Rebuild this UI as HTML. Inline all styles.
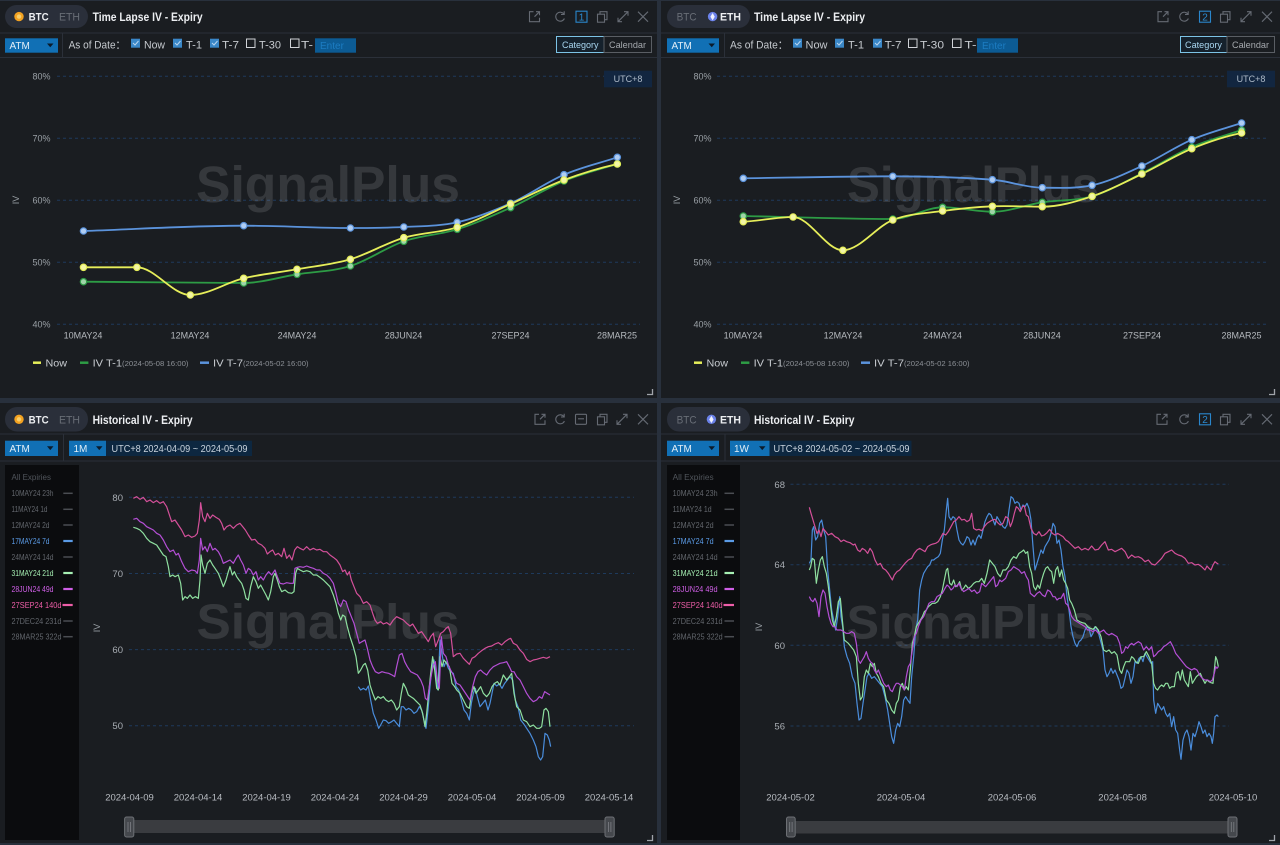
<!DOCTYPE html>
<html><head><meta charset="utf-8"><style>
html,body{margin:0;padding:0;background:#28303c;width:1280px;height:845px;overflow:hidden}
svg{display:block}
text{font-family:"Liberation Sans","Noto Sans CJK SC",sans-serif}
</style></head><body>
<svg width="1280" height="845" viewBox="0 0 1280 845" xmlns="http://www.w3.org/2000/svg">
<rect width="1280" height="845" fill="#28303c"/>
<!-- panels -->
<rect x="0" y="1" width="657" height="397" fill="#1a1d21"/>
<rect x="661" y="1" width="619" height="397" fill="#1a1d21"/>
<rect x="0" y="403" width="657" height="440" fill="#1a1d21"/>
<rect x="661" y="403" width="619" height="440" fill="#1a1d21"/>

<!-- divider lines -->
<g stroke="#2b3039" stroke-width="1">
<line x1="0" y1="33" x2="657" y2="33"/><line x1="0" y1="57.5" x2="657" y2="57.5"/><line x1="62.5" y1="33" x2="62.5" y2="57.5"/>
<line x1="661" y1="33" x2="1280" y2="33"/><line x1="661" y1="57.5" x2="1280" y2="57.5"/><line x1="724.5" y1="33" x2="724.5" y2="57.5"/>
<line x1="0" y1="434" x2="657" y2="434"/><line x1="0" y1="461" x2="657" y2="461"/><line x1="63.5" y1="434" x2="63.5" y2="461"/>
<line x1="661" y1="434" x2="1280" y2="434"/><line x1="661" y1="461" x2="1280" y2="461"/><line x1="725" y1="434" x2="725" y2="461"/>
</g>

<!-- ============ TOP LEFT HEADER ============ -->
<rect x="5" y="5" width="83" height="23" rx="11.5" fill="#2a2f3a"/>
<circle cx="19" cy="16.6" r="4.7" fill="#f3a221"/><circle cx="19" cy="16.6" r="2.2" fill="#f9cf6a"/>
<text x="28.6" y="20.5" font-size="11" font-weight="bold" fill="#eceef1" textLength="20" lengthAdjust="spacingAndGlyphs">BTC</text>
<text x="59" y="20.5" font-size="11" fill="#686d76" textLength="21" lengthAdjust="spacingAndGlyphs">ETH</text>
<text x="92.6" y="21" font-size="12" font-weight="bold" fill="#eceef1" textLength="110" lengthAdjust="spacingAndGlyphs">Time Lapse IV - Expiry</text>
<!-- icons TL -->
<g fill="none" stroke="#656a73" stroke-width="1.1">
<g transform="translate(534.5,16.7)"><path d="M-1,-5 H-5 V5 H5 V1 M1.5,-5 H5 V-1.5 M5,-5 L0,0"/></g>
<g transform="translate(560,16.7)"><path d="M4,-2.5 A4.5,4.5 0 1 0 4.4,1.8"/><path d="M4.2,-5.5 V-2.3 H1"/></g>
<g transform="translate(581.5,16.7)"><rect x="-5.5" y="-5.5" width="11" height="11" stroke="#2a86cc"/></g>
<g transform="translate(602,16.7)"><rect x="-4.5" y="-2.5" width="7" height="8"/><path d="M-2,-2.5 V-5 H5 V3 H2.5"/></g>
<g transform="translate(623,16.7)"><path d="M-5,5 L5,-5 M1,-5 H5 V-1 M-5,1 V5 H-1"/></g>
<g transform="translate(643,16.7)"><path d="M-5,-5 L5,5 M5,-5 L-5,5"/></g>
</g>
<text x="581.5" y="20.3" font-size="10" fill="#2a8ad0" text-anchor="middle">1</text>

<!-- TL toolbar -->
<rect x="5" y="38.3" width="53" height="14.4" fill="#1170b5"/>
<text x="9.5" y="49.2" font-size="10" fill="#e2eef7">ATM</text>
<path d="M47,43.5 h6.5 l-3.25,3.8z" fill="#0b1b2b"/>
<text x="68.6" y="48.5" font-size="11" fill="#c5c9ce" textLength="57" lengthAdjust="spacingAndGlyphs">As of Date：</text>
<g>
<rect x="131" y="38.7" width="9" height="9" fill="#3a87c7"/><path d="M133,43 l2,2 l3.5,-4" stroke="#b9d6f0" fill="none" stroke-width="1"/>
<rect x="173" y="38.7" width="9" height="9" fill="#3a87c7"/><path d="M175,43 l2,2 l3.5,-4" stroke="#b9d6f0" fill="none" stroke-width="1"/>
<rect x="210" y="38.7" width="9" height="9" fill="#3a87c7"/><path d="M212,43 l2,2 l3.5,-4" stroke="#b9d6f0" fill="none" stroke-width="1"/>
<rect x="246.5" y="39" width="8.5" height="8.5" fill="none" stroke="#d0d3d8"/>
<rect x="290.5" y="39" width="8.5" height="8.5" fill="none" stroke="#d0d3d8"/>
</g>
<g font-size="11" fill="#c5c9ce">
<text x="144" y="48.3" textLength="21" lengthAdjust="spacingAndGlyphs">Now</text>
<text x="186" y="48.3" textLength="16" lengthAdjust="spacingAndGlyphs">T-1</text>
<text x="222" y="48.3" textLength="17" lengthAdjust="spacingAndGlyphs">T-7</text>
<text x="259" y="48.3" textLength="22" lengthAdjust="spacingAndGlyphs">T-30</text>
<text x="301" y="48.3" textLength="12" lengthAdjust="spacingAndGlyphs">T-</text>
</g>
<rect x="315" y="38.3" width="41" height="14.4" fill="#0c5b94"/>
<text x="320" y="49" font-size="10" fill="#1c7cc2">Enter</text>
<rect x="556.5" y="36.5" width="47.5" height="16" fill="#15212c" stroke="#7cc3e6"/>
<text x="562" y="48" font-size="9.5" fill="#a8d6f0" textLength="36.5" lengthAdjust="spacingAndGlyphs">Category</text>
<rect x="604" y="36.5" width="47.5" height="16" fill="none" stroke="#5a5e64"/>
<text x="609" y="48" font-size="9.5" fill="#a5a9ae" textLength="37" lengthAdjust="spacingAndGlyphs">Calendar</text>

<!-- TL chart -->
<g stroke="#1e3a5c" stroke-width="1" stroke-dasharray="3,3">
<line x1="57" y1="76.3" x2="640" y2="76.3"/><line x1="57" y1="138.3" x2="640" y2="138.3"/><line x1="57" y1="200.3" x2="640" y2="200.3"/><line x1="57" y1="262.3" x2="640" y2="262.3"/><line x1="57" y1="324.3" x2="640" y2="324.3"/>
</g>
<rect x="604" y="70.7" width="48" height="16.6" fill="#122640"/>
<text x="628" y="82" font-size="9" fill="#aebbc9" text-anchor="middle">UTC+8</text>
<g font-size="9" fill="#9aa0a6" text-anchor="end">
<text x="50.5" y="79.5">80%</text><text x="50.5" y="141.5">70%</text><text x="50.5" y="203.5">60%</text><text x="50.5" y="265.5">50%</text><text x="50.5" y="327.5">40%</text>
</g>
<text transform="translate(19,200) rotate(-90)" font-size="9" fill="#9aa0a6" text-anchor="middle">IV</text>
<g font-size="9" fill="#b5b9be" text-anchor="middle">
<text x="83" y="338.3">10MAY24</text><text x="190" y="338.3">12MAY24</text><text x="297" y="338.3">24MAY24</text><text x="403.5" y="338.3">28JUN24</text><text x="510.5" y="338.3">27SEP24</text><text x="617" y="338.3">28MAR25</text>
</g>
<text x="196" y="202" font-size="51" font-weight="bold" fill="#ffffff" fill-opacity="0.12" textLength="264" lengthAdjust="spacingAndGlyphs">SignalPlus</text>

<g fill="none" stroke-width="1.8">
<path stroke="#2d9c45" d="M83.5,281.7 C136.9,281.7 190.3,283 243.7,283 C261.5,283 279.2,277.1 297,274.3 C314.8,271.5 332.6,271.5 350.4,266 C368.2,260.5 386,247.4 403.8,241.3 C421.6,235.2 439.4,234.9 457.2,229.3 C475,223.7 492.8,215.7 510.6,207.7 C528.4,199.7 546.2,188.3 564,181 C581.8,173.7 599.5,169.3 617.3,164"/>
<path stroke="#5b93dc" d="M83.5,231 C136.9,229.2 190.3,225.7 243.7,225.7 C279.3,225.7 314.8,228 350.4,228 C368.2,228 386,227.9 403.8,227 C421.6,226.1 439.4,226.3 457.2,222.3 C475,218.4 492.8,211.2 510.6,203.3 C528.4,195.4 546.2,182.4 564,174.7 C581.8,167 599.5,163.2 617.3,157.3"/>
<path stroke="#e6ee5a" d="M83.5,267.3 C101.3,267.3 119.1,267.3 136.9,267.3 C154.7,267.3 172.5,295 190.3,295 C208.1,295 225.9,282.6 243.7,278.3 C261.5,274 279.2,272.5 297,269.3 C314.8,266.1 332.6,264.6 350.4,259.3 C368.2,254 386,243 403.8,237.7 C421.6,232.4 439.4,232.9 457.2,227.3 C475,221.7 492.8,211.9 510.6,204 C528.4,196.1 546.2,186.7 564,180 C581.8,173.3 599.5,168 617.3,164"/>
</g>
<g stroke="#2d9c45" stroke-width="1.2" fill="#9fd4a8">
<circle cx="83.5" cy="281.7" r="3.2"/><circle cx="243.7" cy="283" r="3.2"/><circle cx="297" cy="274.3" r="3.2"/><circle cx="350.4" cy="266" r="3.2"/><circle cx="403.8" cy="241.3" r="3.2"/><circle cx="457.2" cy="229.3" r="3.2"/><circle cx="510.6" cy="207.7" r="3.2"/><circle cx="564" cy="181" r="3.2"/><circle cx="617.3" cy="164" r="3.2"/>
</g>
<g stroke="#5b93dc" stroke-width="1.2" fill="#b0cdf2">
<circle cx="83.5" cy="231" r="3.2"/><circle cx="243.7" cy="225.7" r="3.2"/><circle cx="350.4" cy="228" r="3.2"/><circle cx="403.8" cy="227" r="3.2"/><circle cx="457.2" cy="222.3" r="3.2"/><circle cx="510.6" cy="203.3" r="3.2"/><circle cx="564" cy="174.7" r="3.2"/><circle cx="617.3" cy="157.3" r="3.2"/>
</g>
<g stroke="#e6ee5a" stroke-width="1.2" fill="#f3f6a6">
<circle cx="83.5" cy="267.3" r="3.2"/><circle cx="136.9" cy="267.3" r="3.2"/><circle cx="190.3" cy="295" r="3.2"/><circle cx="243.7" cy="278.3" r="3.2"/><circle cx="297" cy="269.3" r="3.2"/><circle cx="350.4" cy="259.3" r="3.2"/><circle cx="403.8" cy="237.7" r="3.2"/><circle cx="457.2" cy="227.3" r="3.2"/><circle cx="510.6" cy="204" r="3.2"/><circle cx="564" cy="180" r="3.2"/><circle cx="617.3" cy="164" r="3.2"/>
</g>
<!-- TL legend -->
<line x1="33" y1="362.7" x2="41" y2="362.7" stroke="#e6ee5a" stroke-width="2.5"/>
<text x="45.5" y="366.5" font-size="10.5" fill="#c8ccd1" textLength="21.5" lengthAdjust="spacingAndGlyphs">Now</text>
<line x1="80" y1="362.7" x2="88.4" y2="362.7" stroke="#2d9c45" stroke-width="2.5"/>
<text x="92.6" y="366.5" font-size="10.5" fill="#c8ccd1" textLength="29.5" lengthAdjust="spacingAndGlyphs">IV T-1</text>
<text x="122" y="366" font-size="7" fill="#8c9096" textLength="66.5" lengthAdjust="spacingAndGlyphs">(2024-05-08 16:00)</text>
<line x1="200" y1="362.7" x2="209" y2="362.7" stroke="#5b93dc" stroke-width="2.5"/>
<text x="213" y="366.5" font-size="10.5" fill="#c8ccd1" textLength="30" lengthAdjust="spacingAndGlyphs">IV T-7</text>
<text x="243" y="366" font-size="7" fill="#8c9096" textLength="65.5" lengthAdjust="spacingAndGlyphs">(2024-05-02 16:00)</text>
<path d="M652.5,389 V394.5 H647" fill="none" stroke="#a0a4aa" stroke-width="1.3"/>

<!-- ============ TOP RIGHT ============ -->
<rect x="667" y="5" width="83" height="23" rx="11.5" fill="#2a2f3a"/>
<text x="676.6" y="20.5" font-size="11" fill="#686d76" textLength="20" lengthAdjust="spacingAndGlyphs">BTC</text>
<circle cx="712.6" cy="16.6" r="4.7" fill="#6b82ea"/><path d="M712.6,13 l2.2,3.8 l-2.2,3.6 l-2.2,-3.6z" fill="#eef1ff"/>
<text x="720" y="20.5" font-size="11" font-weight="bold" fill="#eceef1" textLength="21" lengthAdjust="spacingAndGlyphs">ETH</text>
<text x="754" y="21" font-size="12" font-weight="bold" fill="#eceef1" textLength="111" lengthAdjust="spacingAndGlyphs">Time Lapse IV - Expiry</text>
<g fill="none" stroke="#656a73" stroke-width="1.1">
<g transform="translate(1163,16.7)"><path d="M-1,-5 H-5 V5 H5 V1 M1.5,-5 H5 V-1.5 M5,-5 L0,0"/></g>
<g transform="translate(1184,16.7)"><path d="M4,-2.5 A4.5,4.5 0 1 0 4.4,1.8"/><path d="M4.2,-5.5 V-2.3 H1"/></g>
<g transform="translate(1205,16.7)"><rect x="-5.5" y="-5.5" width="11" height="11" stroke="#2a86cc"/></g>
<g transform="translate(1225,16.7)"><rect x="-4.5" y="-2.5" width="7" height="8"/><path d="M-2,-2.5 V-5 H5 V3 H2.5"/></g>
<g transform="translate(1246,16.7)"><path d="M-5,5 L5,-5 M1,-5 H5 V-1 M-5,1 V5 H-1"/></g>
<g transform="translate(1267,16.7)"><path d="M-5,-5 L5,5 M5,-5 L-5,5"/></g>
</g>
<text x="1205" y="20.3" font-size="10" fill="#2a8ad0" text-anchor="middle">2</text>

<rect x="667" y="38.3" width="52" height="14.4" fill="#1170b5"/>
<text x="671.5" y="49.2" font-size="10" fill="#e2eef7">ATM</text>
<path d="M708.5,43.5 h6.5 l-3.25,3.8z" fill="#0b1b2b"/>
<text x="730" y="48.5" font-size="11" fill="#c5c9ce" textLength="58" lengthAdjust="spacingAndGlyphs">As of Date：</text>
<rect x="793" y="38.7" width="9" height="9" fill="#3a87c7"/><path d="M795,43 l2,2 l3.5,-4" stroke="#b9d6f0" fill="none"/>
<rect x="835" y="38.7" width="9" height="9" fill="#3a87c7"/><path d="M837,43 l2,2 l3.5,-4" stroke="#b9d6f0" fill="none"/>
<rect x="873" y="38.7" width="9" height="9" fill="#3a87c7"/><path d="M875,43 l2,2 l3.5,-4" stroke="#b9d6f0" fill="none"/>
<rect x="908.5" y="39" width="8.5" height="8.5" fill="none" stroke="#d0d3d8"/>
<rect x="952.5" y="39" width="8.5" height="8.5" fill="none" stroke="#d0d3d8"/>
<g font-size="11" fill="#c5c9ce">
<text x="805.5" y="48.3" textLength="22" lengthAdjust="spacingAndGlyphs">Now</text>
<text x="848" y="48.3" textLength="16" lengthAdjust="spacingAndGlyphs">T-1</text>
<text x="884.6" y="48.3" textLength="17" lengthAdjust="spacingAndGlyphs">T-7</text>
<text x="920" y="48.3" textLength="24" lengthAdjust="spacingAndGlyphs">T-30</text>
<text x="964.5" y="48.3" textLength="12" lengthAdjust="spacingAndGlyphs">T-</text>
</g>
<rect x="977" y="38.3" width="41" height="14.4" fill="#0c5b94"/>
<text x="982" y="49" font-size="10" fill="#1c7cc2">Enter</text>
<rect x="1180.5" y="36.5" width="46.5" height="16" fill="#15212c" stroke="#7cc3e6"/>
<text x="1185" y="48" font-size="9.5" fill="#a8d6f0" textLength="37" lengthAdjust="spacingAndGlyphs">Category</text>
<rect x="1227" y="36.5" width="47.5" height="16" fill="none" stroke="#5a5e64"/>
<text x="1232" y="48" font-size="9.5" fill="#a5a9ae" textLength="37" lengthAdjust="spacingAndGlyphs">Calendar</text>

<g stroke="#1e3a5c" stroke-width="1" stroke-dasharray="3,3">
<line x1="717" y1="76.3" x2="1266" y2="76.3"/><line x1="717" y1="138.3" x2="1266" y2="138.3"/><line x1="717" y1="200.3" x2="1266" y2="200.3"/><line x1="717" y1="262.3" x2="1266" y2="262.3"/><line x1="717" y1="324.3" x2="1266" y2="324.3"/>
</g>
<rect x="1227" y="70.7" width="48" height="16.6" fill="#122640"/>
<text x="1251" y="82" font-size="9" fill="#aebbc9" text-anchor="middle">UTC+8</text>
<g font-size="9" fill="#9aa0a6" text-anchor="end">
<text x="711.5" y="79.5">80%</text><text x="711.5" y="141.5">70%</text><text x="711.5" y="203.5">60%</text><text x="711.5" y="265.5">50%</text><text x="711.5" y="327.5">40%</text>
</g>
<text transform="translate(680,200) rotate(-90)" font-size="9" fill="#9aa0a6" text-anchor="middle">IV</text>
<g font-size="9" fill="#b5b9be" text-anchor="middle">
<text x="743" y="338.3">10MAY24</text><text x="843" y="338.3">12MAY24</text><text x="942.5" y="338.3">24MAY24</text><text x="1042" y="338.3">28JUN24</text><text x="1142" y="338.3">27SEP24</text><text x="1241.5" y="338.3">28MAR25</text>
</g>
<text x="847" y="202" font-size="50" font-weight="bold" fill="#ffffff" fill-opacity="0.12" textLength="252" lengthAdjust="spacingAndGlyphs">SignalPlus</text>

<g fill="none" stroke-width="1.8">
<path stroke="#2d9c45" d="M743.3,216 C793.1,217 842.9,219 892.8,219 C909.4,219 926,207.3 942.6,207.3 C959.2,207.3 975.8,211.7 992.4,211.7 C1009,211.7 1025.7,204.9 1042.3,202.3 C1058.9,199.7 1075.5,201.1 1092.1,196.3 C1108.7,191.5 1125.3,181.5 1141.9,173.3 C1158.5,165.1 1175.2,154.2 1191.8,147 C1208.4,139.8 1225,135.7 1241.6,130"/>
<path stroke="#5b93dc" d="M743.3,178.3 C793.1,177.6 842.9,176.3 892.8,176.3 C926,176.3 959.2,177.2 992.4,179.7 C1009,181 1025.7,187.7 1042.3,187.7 C1058.9,187.7 1075.5,188.9 1092.1,185.3 C1108.7,181.7 1125.3,173.6 1141.9,166 C1158.5,158.4 1175.2,146.9 1191.8,139.7 C1208.4,132.5 1225,128.5 1241.6,123"/>
<path stroke="#e6ee5a" d="M743.3,221.7 C759.9,221 776.5,217 793.1,217 C809.7,217 826.3,250.3 842.9,250.3 C859.5,250.3 876.2,226.6 892.8,220 C909.4,213.5 926,213.3 942.6,211 C959.2,208.7 975.8,207 992.4,206.3 C1009,205.6 1025.7,206.7 1042.3,206.7 C1058.9,206.7 1075.5,201.8 1092.1,196.3 C1108.7,190.9 1125.3,181.9 1141.9,174 C1158.5,166.1 1175.2,155.5 1191.8,148.7 C1208.4,141.9 1225,136.3 1241.6,133"/>
</g>
<g stroke="#2d9c45" stroke-width="1.2" fill="#9fd4a8">
<circle cx="743.3" cy="216" r="3.2"/><circle cx="892.8" cy="219" r="3.2"/><circle cx="942.6" cy="207.3" r="3.2"/><circle cx="992.4" cy="211.7" r="3.2"/><circle cx="1042.3" cy="202.3" r="3.2"/><circle cx="1092.1" cy="196.3" r="3.2"/><circle cx="1141.9" cy="173.3" r="3.2"/><circle cx="1191.8" cy="147" r="3.2"/><circle cx="1241.6" cy="130" r="3.2"/>
</g>
<g stroke="#5b93dc" stroke-width="1.2" fill="#b0cdf2">
<circle cx="743.3" cy="178.3" r="3.2"/><circle cx="892.8" cy="176.3" r="3.2"/><circle cx="992.4" cy="179.7" r="3.2"/><circle cx="1042.3" cy="187.7" r="3.2"/><circle cx="1092.1" cy="185.3" r="3.2"/><circle cx="1141.9" cy="166" r="3.2"/><circle cx="1191.8" cy="139.7" r="3.2"/><circle cx="1241.6" cy="123" r="3.2"/>
</g>
<g stroke="#e6ee5a" stroke-width="1.2" fill="#f3f6a6">
<circle cx="743.3" cy="221.7" r="3.2"/><circle cx="793.1" cy="217" r="3.2"/><circle cx="842.9" cy="250.3" r="3.2"/><circle cx="892.8" cy="220" r="3.2"/><circle cx="942.6" cy="211" r="3.2"/><circle cx="992.4" cy="206.3" r="3.2"/><circle cx="1042.3" cy="206.7" r="3.2"/><circle cx="1092.1" cy="196.3" r="3.2"/><circle cx="1141.9" cy="174" r="3.2"/><circle cx="1191.8" cy="148.7" r="3.2"/><circle cx="1241.6" cy="133" r="3.2"/>
</g>
<line x1="694" y1="362.7" x2="702" y2="362.7" stroke="#e6ee5a" stroke-width="2.5"/>
<text x="706.5" y="366.5" font-size="10.5" fill="#c8ccd1" textLength="21.5" lengthAdjust="spacingAndGlyphs">Now</text>
<line x1="741" y1="362.7" x2="749.4" y2="362.7" stroke="#2d9c45" stroke-width="2.5"/>
<text x="753.6" y="366.5" font-size="10.5" fill="#c8ccd1" textLength="29.5" lengthAdjust="spacingAndGlyphs">IV T-1</text>
<text x="783" y="366" font-size="7" fill="#8c9096" textLength="66.5" lengthAdjust="spacingAndGlyphs">(2024-05-08 16:00)</text>
<line x1="861" y1="362.7" x2="870" y2="362.7" stroke="#5b93dc" stroke-width="2.5"/>
<text x="874" y="366.5" font-size="10.5" fill="#c8ccd1" textLength="30" lengthAdjust="spacingAndGlyphs">IV T-7</text>
<text x="904" y="366" font-size="7" fill="#8c9096" textLength="65.5" lengthAdjust="spacingAndGlyphs">(2024-05-02 16:00)</text>
<path d="M1274.5,389 V394.5 H1269" fill="none" stroke="#a0a4aa" stroke-width="1.3"/>

<!-- ============ BOTTOM LEFT ============ -->
<rect x="5" y="407" width="83" height="24.5" rx="12" fill="#2a2f3a"/>
<circle cx="19" cy="419.3" r="4.7" fill="#f3a221"/><circle cx="19" cy="419.3" r="2.2" fill="#f9cf6a"/>
<text x="28.6" y="423.3" font-size="11" font-weight="bold" fill="#eceef1" textLength="20" lengthAdjust="spacingAndGlyphs">BTC</text>
<text x="59" y="423.3" font-size="11" fill="#686d76" textLength="21" lengthAdjust="spacingAndGlyphs">ETH</text>
<text x="92.6" y="423.8" font-size="12" font-weight="bold" fill="#eceef1" textLength="100" lengthAdjust="spacingAndGlyphs">Historical IV - Expiry</text>
<g fill="none" stroke="#656a73" stroke-width="1.1">
<g transform="translate(540,419.3)"><path d="M-1,-5 H-5 V5 H5 V1 M1.5,-5 H5 V-1.5 M5,-5 L0,0"/></g>
<g transform="translate(560,419.3)"><path d="M4,-2.5 A4.5,4.5 0 1 0 4.4,1.8"/><path d="M4.2,-5.5 V-2.3 H1"/></g>
<g transform="translate(581,419.3)"><rect x="-5.5" y="-5" width="11" height="10" rx="1"/><path d="M-3,-0.5 H3"/></g>
<g transform="translate(602,419.3)"><rect x="-4.5" y="-2.5" width="7" height="8"/><path d="M-2,-2.5 V-5 H5 V3 H2.5"/></g>
<g transform="translate(622,419.3)"><path d="M-5,5 L5,-5 M1,-5 H5 V-1 M-5,1 V5 H-1"/></g>
<g transform="translate(643,419.3)"><path d="M-5,-5 L5,5 M5,-5 L-5,5"/></g>
</g>
<rect x="5" y="440.7" width="53" height="15.3" fill="#1170b5"/>
<text x="9.5" y="452" font-size="10" fill="#e2eef7">ATM</text>
<path d="M47,446.3 h6.5 l-3.25,3.8z" fill="#0b1b2b"/>
<rect x="69" y="440.7" width="37" height="15.3" fill="#1170b5"/>
<text x="73.5" y="452" font-size="10" fill="#e2eef7">1M</text>
<path d="M96,446.3 h6.5 l-3.25,3.8z" fill="#0b1b2b"/>
<rect x="106" y="440.7" width="146" height="15.3" fill="#0d2740"/>
<text x="111.5" y="452" font-size="10" fill="#c9d3dd" textLength="136" lengthAdjust="spacingAndGlyphs">UTC+8 2024-04-09 ~ 2024-05-09</text>

<!-- BL sidebar -->
<rect x="5" y="465" width="74" height="375" fill="#0b0c0e"/>
<g font-size="8" lengthAdjust="spacingAndGlyphs">
<text x="11.5" y="480.1" fill="#50555b" textLength="39.5" lengthAdjust="spacingAndGlyphs">All Expiries</text>
<text x="11.5" y="496.1" fill="#62666c" textLength="42" lengthAdjust="spacingAndGlyphs">10MAY24 23h</text>
<text x="11.5" y="512.1" fill="#62666c" textLength="36" lengthAdjust="spacingAndGlyphs">11MAY24 1d</text>
<text x="11.5" y="527.8" fill="#62666c" textLength="38" lengthAdjust="spacingAndGlyphs">12MAY24 2d</text>
<text x="11.5" y="543.8" fill="#5b9be6" textLength="38" lengthAdjust="spacingAndGlyphs">17MAY24 7d</text>
<text x="11.5" y="559.8" fill="#62666c" textLength="42" lengthAdjust="spacingAndGlyphs">24MAY24 14d</text>
<text x="11.5" y="575.8" fill="#a6f0b3" textLength="42" lengthAdjust="spacingAndGlyphs">31MAY24 21d</text>
<text x="11.5" y="591.8" fill="#cf5fe6" textLength="42" lengthAdjust="spacingAndGlyphs">28JUN24 49d</text>
<text x="11.5" y="607.8" fill="#ee5ea8" textLength="50" lengthAdjust="spacingAndGlyphs">27SEP24 140d</text>
<text x="11.5" y="623.8" fill="#62666c" textLength="50" lengthAdjust="spacingAndGlyphs">27DEC24 231d</text>
<text x="11.5" y="639.5" fill="#62666c" textLength="50" lengthAdjust="spacingAndGlyphs">28MAR25 322d</text>
</g>
<g stroke-width="1.5">
<line x1="63.3" y1="493.3" x2="72.7" y2="493.3" stroke="#4a4d52"/>
<line x1="63.3" y1="509.3" x2="72.7" y2="509.3" stroke="#4a4d52"/>
<line x1="63.3" y1="525" x2="72.7" y2="525" stroke="#4a4d52"/>
<line x1="63.3" y1="541" x2="72.7" y2="541" stroke="#5b9be6" stroke-width="2.2"/>
<line x1="63.3" y1="557" x2="72.7" y2="557" stroke="#4a4d52"/>
<line x1="63.3" y1="573" x2="72.7" y2="573" stroke="#a6f0b3" stroke-width="2.2"/>
<line x1="63.3" y1="589" x2="72.7" y2="589" stroke="#cf5fe6" stroke-width="2.2"/>
<line x1="62.5" y1="605" x2="72.7" y2="605" stroke="#ee5ea8" stroke-width="2.2"/>
<line x1="63.3" y1="621" x2="72.7" y2="621" stroke="#4a4d52"/>
<line x1="63.3" y1="636.7" x2="72.7" y2="636.7" stroke="#4a4d52"/>
</g>

<!-- BL chart -->
<g stroke="#1e3a5c" stroke-width="1" stroke-dasharray="3,3">
<line x1="129" y1="497.3" x2="634" y2="497.3"/><line x1="129" y1="573.5" x2="634" y2="573.5"/><line x1="129" y1="649.6" x2="634" y2="649.6"/><line x1="129" y1="725.7" x2="634" y2="725.7"/>
</g>
<g font-size="9.5" fill="#a8adb3" text-anchor="end">
<text x="123" y="500.8">80</text><text x="123" y="577">70</text><text x="123" y="653">60</text><text x="123" y="729.2">50</text>
</g>
<text transform="translate(100,628) rotate(-90)" font-size="9" fill="#9aa0a6" text-anchor="middle">IV</text>
<text x="196.5" y="638.3" font-size="49" font-weight="bold" fill="#ffffff" fill-opacity="0.12" textLength="263" lengthAdjust="spacingAndGlyphs">SignalPlus</text>
<g font-size="9.5" fill="#b8bcc2" text-anchor="middle">
<text x="129.5" y="800.5">2024-04-09</text><text x="198" y="800.5">2024-04-14</text><text x="266.5" y="800.5">2024-04-19</text><text x="335" y="800.5">2024-04-24</text><text x="403.5" y="800.5">2024-04-29</text><text x="472" y="800.5">2024-05-04</text><text x="540.5" y="800.5">2024-05-09</text><text x="609" y="800.5">2024-05-14</text>
</g>
<g transform="translate(90,480) scale(0.33333)" fill="none" stroke-width="1.2" stroke-linejoin="round">
<polyline vector-effect="non-scaling-stroke" stroke="#4a8ddc" points="805,620 812,630 820,625 828,630 835,618 842,660 850,700 858,720 866,745 872,735 880,720 888,722 896,730 905,725 912,720 920,730 928,740 934,680 940,680 948,690 956,685 964,690 972,700 980,695 988,680 995,690 1002,720 1008,745 1014,690 1020,620 1026,560 1032,540 1038,590 1044,630 1050,480 1056,520 1062,560 1068,545 1075,565 1082,575 1090,580 1098,620 1106,630 1114,660 1122,690 1130,700 1138,720 1144,670 1150,640 1156,625 1162,650 1170,680 1178,670 1186,660 1194,690 1200,670 1206,640 1212,610 1220,618 1228,612 1236,625 1244,610 1252,600 1260,590 1268,600 1276,660 1284,680 1292,720 1300,730 1310,745 1320,760 1330,780 1338,800 1345,830 1352,840 1358,830 1365,760 1372,765 1378,780 1382,800"/>
<polyline vector-effect="non-scaling-stroke" stroke="#8fe0a0" points="130,142 140,145 150,150 160,160 170,175 180,185 190,190 200,195 210,210 220,225 228,230 235,260 240,290 248,285 255,290 265,285 272,310 278,360 285,350 292,355 300,345 308,355 316,350 325,355 330,300 333,225 338,255 345,280 352,250 360,240 368,255 375,265 385,280 393,300 400,320 408,300 415,275 420,260 427,285 433,275 440,290 447,300 455,310 462,330 468,355 475,360 482,320 490,290 498,305 505,325 512,315 520,330 528,345 535,360 542,335 550,290 555,280 562,300 568,320 575,335 585,330 595,338 605,340 612,335 617,280 622,265 630,270 640,275 650,272 660,275 670,285 680,285 690,292 700,300 710,310 720,320 730,345 738,370 745,400 752,420 758,405 765,410 772,440 780,470 790,500 798,530 805,580 812,570 820,555 826,550 833,570 840,615 848,640 856,660 864,650 872,655 880,650 888,660 896,665 904,660 912,670 920,690 928,680 934,640 940,610 948,625 955,645 962,650 970,655 980,665 990,675 998,700 1005,740 1010,700 1016,640 1022,580 1028,530 1034,570 1040,625 1045,630 1050,530 1056,560 1062,540 1070,550 1078,560 1086,610 1094,620 1100,630 1110,640 1120,660 1130,680 1138,685 1145,640 1152,620 1158,640 1165,630 1172,620 1180,640 1190,650 1198,640 1206,620 1214,610 1222,605 1230,615 1240,585 1250,600 1258,590 1265,580 1272,640 1280,680 1290,690 1300,720 1310,725 1320,740 1330,735 1340,745 1348,745 1355,740 1362,690 1368,685 1375,695 1380,740"/>
<polyline vector-effect="non-scaling-stroke" stroke="#b54fd6" points="130,118 140,115 150,125 160,130 170,140 180,145 190,150 200,160 210,165 220,180 230,200 240,215 250,210 258,225 265,220 275,245 285,265 295,275 305,270 315,272 322,280 328,240 332,175 338,210 345,200 352,215 360,190 368,210 375,205 385,215 393,230 400,250 410,245 420,240 430,250 438,235 445,225 452,240 460,255 468,280 475,265 482,270 490,285 498,275 505,300 512,290 520,300 528,285 536,275 545,285 555,270 562,290 570,310 580,312 590,308 600,310 610,310 615,265 622,262 630,260 640,262 650,258 660,262 670,265 680,270 690,270 700,280 710,285 720,295 730,310 738,340 745,370 752,380 760,360 768,365 776,390 784,410 792,430 800,460 808,490 816,485 825,480 832,505 840,540 848,560 856,575 866,580 876,575 886,578 896,580 906,585 914,590 920,560 928,525 936,520 944,545 952,560 962,575 972,580 982,585 992,600 1000,620 1006,655 1012,660 1018,620 1025,580 1030,555 1036,545 1042,600 1048,625 1054,470 1060,520 1068,530 1075,555 1082,570 1090,585 1100,610 1110,615 1120,630 1130,645 1140,660 1148,620 1156,590 1164,575 1172,570 1180,578 1190,585 1200,570 1210,560 1220,555 1230,550 1240,548 1250,545 1258,560 1265,575 1272,575 1280,590 1290,600 1300,620 1310,640 1320,655 1330,665 1340,660 1348,650 1356,655 1364,635 1372,640 1380,645"/>
<polyline vector-effect="non-scaling-stroke" stroke="#d4509a" points="130,55 140,50 150,58 160,52 170,65 180,60 190,68 200,62 210,70 220,65 230,80 240,110 245,125 255,120 265,135 275,150 285,170 295,165 305,172 315,168 322,160 328,120 332,68 338,110 345,125 352,100 360,115 368,105 378,112 388,118 395,130 402,150 410,140 420,135 430,145 440,135 450,130 458,140 466,150 475,165 485,180 495,178 505,190 515,195 525,205 532,222 540,215 548,210 556,225 565,220 575,230 582,205 590,235 598,225 606,240 614,210 622,200 630,205 640,210 650,200 660,210 670,205 680,210 690,208 700,215 710,215 720,225 730,232 740,240 750,255 758,275 765,270 772,285 778,275 784,300 792,320 800,340 810,350 820,370 830,365 840,375 848,400 855,420 862,430 872,425 880,432 890,428 900,435 910,420 920,410 930,415 940,420 950,430 960,438 968,432 976,445 985,460 995,455 1005,470 1015,485 1022,470 1030,460 1037,500 1045,480 1052,460 1060,455 1068,445 1075,440 1082,460 1090,530 1100,522 1110,520 1120,535 1130,545 1138,553 1146,535 1155,530 1165,520 1175,512 1185,505 1195,500 1205,498 1215,492 1225,488 1235,495 1245,485 1255,478 1262,475 1270,490 1280,495 1290,510 1300,520 1310,538 1320,545 1330,540 1340,538 1350,535 1360,532 1370,535 1380,530"/>
</g>
<!-- BL slider -->
<rect x="126" y="820" width="484" height="13" fill="#3a3c40"/>
<rect x="124.6" y="817" width="9.2" height="20" rx="2" fill="#45484d" stroke="#6d7075"/>
<path d="M128,822 V832 M130.5,822 V832" stroke="#7d8085" stroke-width="0.8"/>
<rect x="605" y="817" width="9.2" height="20" rx="2" fill="#45484d" stroke="#6d7075"/>
<path d="M608.4,822 V832 M610.9,822 V832" stroke="#7d8085" stroke-width="0.8"/>
<path d="M652.5,835 V840.5 H647" fill="none" stroke="#a0a4aa" stroke-width="1.3"/>

<!-- ============ BOTTOM RIGHT ============ -->
<rect x="667" y="407" width="83" height="24.5" rx="12" fill="#2a2f3a"/>
<text x="676.6" y="423.3" font-size="11" fill="#686d76" textLength="20" lengthAdjust="spacingAndGlyphs">BTC</text>
<circle cx="711.4" cy="419.3" r="4.7" fill="#6b82ea"/><path d="M711.4,415.7 l2.2,3.8 l-2.2,3.6 l-2.2,-3.6z" fill="#eef1ff"/>
<text x="720" y="423.3" font-size="11" font-weight="bold" fill="#eceef1" textLength="21" lengthAdjust="spacingAndGlyphs">ETH</text>
<text x="754" y="423.8" font-size="12" font-weight="bold" fill="#eceef1" textLength="100.5" lengthAdjust="spacingAndGlyphs">Historical IV - Expiry</text>
<g fill="none" stroke="#656a73" stroke-width="1.1">
<g transform="translate(1162,419.3)"><path d="M-1,-5 H-5 V5 H5 V1 M1.5,-5 H5 V-1.5 M5,-5 L0,0"/></g>
<g transform="translate(1184,419.3)"><path d="M4,-2.5 A4.5,4.5 0 1 0 4.4,1.8"/><path d="M4.2,-5.5 V-2.3 H1"/></g>
<g transform="translate(1205,419.3)"><rect x="-5.5" y="-5.5" width="11" height="11" stroke="#2a86cc"/></g>
<g transform="translate(1225,419.3)"><rect x="-4.5" y="-2.5" width="7" height="8"/><path d="M-2,-2.5 V-5 H5 V3 H2.5"/></g>
<g transform="translate(1246,419.3)"><path d="M-5,5 L5,-5 M1,-5 H5 V-1 M-5,1 V5 H-1"/></g>
<g transform="translate(1267,419.3)"><path d="M-5,-5 L5,5 M5,-5 L-5,5"/></g>
</g>
<text x="1205" y="422.9" font-size="10" fill="#2a8ad0" text-anchor="middle">2</text>
<rect x="667" y="440.7" width="52" height="15.3" fill="#1170b5"/>
<text x="671.5" y="452" font-size="10" fill="#e2eef7">ATM</text>
<path d="M708.5,446.3 h6.5 l-3.25,3.8z" fill="#0b1b2b"/>
<rect x="730" y="440.7" width="39.5" height="15.3" fill="#1170b5"/>
<text x="734" y="452" font-size="10" fill="#e2eef7">1W</text>
<path d="M759,446.3 h6.5 l-3.25,3.8z" fill="#0b1b2b"/>
<rect x="769.5" y="440.7" width="142" height="15.3" fill="#0d2740"/>
<text x="773.5" y="452" font-size="10" fill="#c9d3dd" textLength="136" lengthAdjust="spacingAndGlyphs">UTC+8 2024-05-02 ~ 2024-05-09</text>

<rect x="667" y="465" width="73" height="375" fill="#0b0c0e"/>
<g font-size="8">
<text x="672.6" y="480.1" fill="#50555b" textLength="41" lengthAdjust="spacingAndGlyphs">All Expiries</text>
<text x="672.6" y="496.1" fill="#62666c" textLength="45" lengthAdjust="spacingAndGlyphs">10MAY24 23h</text>
<text x="672.6" y="512.1" fill="#62666c" textLength="39" lengthAdjust="spacingAndGlyphs">11MAY24 1d</text>
<text x="672.6" y="527.8" fill="#62666c" textLength="41" lengthAdjust="spacingAndGlyphs">12MAY24 2d</text>
<text x="672.6" y="543.8" fill="#5b9be6" textLength="41" lengthAdjust="spacingAndGlyphs">17MAY24 7d</text>
<text x="672.6" y="559.8" fill="#62666c" textLength="45" lengthAdjust="spacingAndGlyphs">24MAY24 14d</text>
<text x="672.6" y="575.8" fill="#a6f0b3" textLength="45" lengthAdjust="spacingAndGlyphs">31MAY24 21d</text>
<text x="672.6" y="591.8" fill="#cf5fe6" textLength="45" lengthAdjust="spacingAndGlyphs">28JUN24 49d</text>
<text x="672.6" y="607.8" fill="#ee5ea8" textLength="50" lengthAdjust="spacingAndGlyphs">27SEP24 140d</text>
<text x="672.6" y="623.8" fill="#62666c" textLength="50" lengthAdjust="spacingAndGlyphs">27DEC24 231d</text>
<text x="672.6" y="639.5" fill="#62666c" textLength="50" lengthAdjust="spacingAndGlyphs">28MAR25 322d</text>
</g>
<g stroke-width="1.5">
<line x1="724.5" y1="493.3" x2="734" y2="493.3" stroke="#4a4d52"/>
<line x1="724.5" y1="509.3" x2="734" y2="509.3" stroke="#4a4d52"/>
<line x1="724.5" y1="525" x2="734" y2="525" stroke="#4a4d52"/>
<line x1="724.5" y1="541" x2="734" y2="541" stroke="#5b9be6" stroke-width="2.2"/>
<line x1="724.5" y1="557" x2="734" y2="557" stroke="#4a4d52"/>
<line x1="724.5" y1="573" x2="734" y2="573" stroke="#a6f0b3" stroke-width="2.2"/>
<line x1="724.5" y1="589" x2="734" y2="589" stroke="#cf5fe6" stroke-width="2.2"/>
<line x1="723.5" y1="605" x2="734" y2="605" stroke="#ee5ea8" stroke-width="2.2"/>
<line x1="724.5" y1="621" x2="734" y2="621" stroke="#4a4d52"/>
<line x1="724.5" y1="636.7" x2="734" y2="636.7" stroke="#4a4d52"/>
</g>

<g stroke="#1e3a5c" stroke-width="1" stroke-dasharray="3,3">
<line x1="790.5" y1="484.3" x2="1229" y2="484.3"/><line x1="790.5" y1="564.7" x2="1229" y2="564.7"/><line x1="790.5" y1="645.3" x2="1229" y2="645.3"/><line x1="790.5" y1="726" x2="1229" y2="726"/>
</g>
<g font-size="9.5" fill="#a8adb3" text-anchor="end">
<text x="785" y="487.8">68</text><text x="785" y="568.2">64</text><text x="785" y="648.8">60</text><text x="785" y="729.5">56</text>
</g>
<text transform="translate(762,627) rotate(-90)" font-size="9" fill="#9aa0a6" text-anchor="middle">IV</text>
<text x="846.7" y="638.3" font-size="47" font-weight="bold" fill="#ffffff" fill-opacity="0.12" textLength="248" lengthAdjust="spacingAndGlyphs">SignalPlus</text>
<g font-size="9.5" fill="#b8bcc2" text-anchor="middle">
<text x="790.5" y="800.5">2024-05-02</text><text x="901" y="800.5">2024-05-04</text><text x="1012" y="800.5">2024-05-06</text><text x="1122.6" y="800.5">2024-05-08</text><text x="1233" y="800.5">2024-05-10</text>
</g>
<g transform="translate(755,470) scale(0.33333)" fill="none" stroke-width="1.2" stroke-linejoin="round">
<polyline vector-effect="non-scaling-stroke" stroke="#4a8ddc" points="163,280 168,270 172,180 176,170 182,210 188,200 194,160 200,150 206,180 212,200 218,300 224,360 230,420 236,450 242,480 248,440 254,380 258,440 263,470 268,530 276,560 284,580 292,620 300,640 306,700 312,750 318,745 324,700 330,660 336,620 342,610 350,625 358,620 366,630 374,640 382,650 390,680 398,720 404,760 410,800 416,820 422,780 428,760 434,770 440,740 446,690 452,680 458,690 465,700 470,620 476,560 482,480 488,450 494,360 500,330 506,310 512,300 518,290 524,285 530,270 536,270 542,265 550,260 556,250 562,210 568,180 574,120 578,85 582,140 588,150 594,140 600,145 606,180 612,210 618,220 624,225 630,215 636,200 642,205 648,225 654,210 660,225 666,205 672,195 678,205 684,180 690,155 696,140 702,130 708,135 714,150 720,165 726,140 732,150 738,160 744,170 750,175 756,165 762,120 768,80 774,85 780,100 786,95 792,100 798,120 804,105 810,110 816,100 822,115 828,150 834,230 840,300 846,280 852,260 858,240 864,250 870,230 876,220 882,210 888,190 894,160 900,170 906,220 912,210 918,240 924,290 930,320 936,380 942,420 948,470 954,500 960,520 966,530 972,515 978,510 984,500 990,480 996,470 1002,475 1008,500 1014,490 1020,470 1028,480 1036,510 1044,540 1050,600 1056,620 1062,610 1068,595 1074,610 1080,600 1086,615 1092,630 1098,655 1104,650 1110,625 1116,600 1122,610 1128,640 1134,620 1140,575 1146,580 1152,565 1158,560 1164,575 1170,550 1176,560 1182,570 1188,580 1193,575 1196,690 1202,730 1208,700 1214,710 1220,720 1226,710 1232,730 1238,740 1244,730 1250,770 1256,740 1262,780 1268,790 1274,840 1278,868 1284,810 1290,790 1296,780 1302,800 1308,840 1314,790 1320,800 1326,780 1332,755 1338,770 1344,790 1350,780 1356,800 1362,790 1368,800 1372,820 1376,790 1380,740 1386,735 1390,740"/>
<polyline vector-effect="non-scaling-stroke" stroke="#8fe0a0" points="163,300 167,290 172,265 178,270 184,340 190,300 196,270 202,260 208,290 214,310 220,350 226,400 232,450 238,470 244,440 250,395 256,385 262,450 268,510 274,515 280,520 288,530 296,540 304,560 310,640 316,690 322,680 328,620 334,600 340,610 346,580 352,590 358,580 364,610 370,620 378,640 386,650 394,690 402,700 410,720 418,730 424,700 430,690 436,650 442,640 448,660 454,650 460,660 466,600 472,520 478,500 484,470 490,460 496,450 502,440 508,425 514,420 520,410 526,405 532,400 540,400 548,395 556,380 562,360 568,330 574,300 578,295 584,340 590,345 596,330 602,350 608,345 614,335 620,360 626,355 632,345 640,355 648,350 656,340 664,335 672,335 680,325 688,340 696,310 704,270 712,280 720,290 728,310 736,320 744,300 752,300 760,290 768,270 776,260 784,265 792,250 800,245 806,240 812,250 818,245 824,290 830,310 836,350 842,360 848,345 854,355 860,330 866,310 872,295 878,290 884,300 890,305 896,340 902,300 908,290 914,320 920,300 926,330 932,340 938,355 944,390 950,400 958,420 966,450 974,455 982,458 990,460 998,470 1006,475 1014,478 1022,470 1030,480 1038,500 1046,540 1054,545 1062,540 1070,550 1078,545 1086,555 1094,600 1100,610 1106,590 1112,575 1118,575 1124,575 1130,560 1136,565 1142,575 1150,580 1158,560 1166,560 1174,545 1182,560 1190,580 1196,640 1202,655 1208,660 1214,650 1220,645 1226,650 1232,640 1238,640 1244,655 1250,650 1258,650 1264,610 1270,605 1276,630 1282,600 1288,630 1294,640 1300,650 1306,605 1312,640 1318,630 1324,620 1330,615 1336,610 1342,625 1350,640 1356,630 1362,635 1368,638 1374,640 1378,600 1382,560 1386,570 1390,590"/>
<polyline vector-effect="non-scaling-stroke" stroke="#b54fd6" points="163,380 168,390 174,395 180,385 186,400 192,440 198,380 204,360 210,370 216,410 222,440 228,460 234,470 240,470 246,480 252,480 258,480 266,485 274,490 282,490 290,485 298,490 304,520 310,570 316,580 322,570 328,560 334,545 340,565 346,575 352,580 358,600 364,610 370,600 378,620 386,640 394,650 400,645 406,660 412,665 418,650 424,640 430,640 436,645 442,650 448,660 454,620 460,590 466,580 472,540 478,500 484,490 490,470 498,450 506,440 514,420 522,400 530,395 538,395 546,380 554,375 562,370 570,355 576,345 582,350 588,360 594,355 600,345 606,350 612,340 618,355 626,365 634,360 642,355 650,365 658,360 666,370 674,365 680,340 686,345 692,350 700,340 708,330 716,320 722,350 728,345 734,330 740,335 746,330 752,325 760,305 768,300 776,290 784,295 792,300 800,310 808,305 814,320 820,330 826,370 832,375 838,380 846,370 854,365 862,375 870,380 878,360 886,365 894,380 900,380 906,390 912,385 918,385 926,370 932,400 938,405 944,420 950,440 958,450 966,455 974,460 982,465 990,470 998,480 1006,480 1014,485 1022,480 1030,490 1038,485 1046,480 1054,490 1062,495 1070,490 1078,495 1086,500 1094,520 1100,550 1106,545 1112,530 1118,535 1124,525 1130,520 1136,525 1142,520 1150,515 1158,520 1166,540 1174,530 1182,540 1190,530 1196,560 1202,555 1210,545 1218,540 1226,530 1234,525 1240,520 1246,515 1254,530 1262,550 1270,560 1278,570 1286,580 1294,590 1302,595 1310,600 1318,595 1326,600 1334,615 1342,625 1350,630 1358,630 1366,635 1372,630 1378,610 1382,590 1386,595 1390,590"/>
<polyline vector-effect="non-scaling-stroke" stroke="#d4509a" points="163,112 168,130 174,150 180,170 186,190 192,180 198,200 204,175 212,185 220,195 230,190 240,200 250,205 258,215 266,210 275,215 285,218 295,225 300,222 308,240 315,245 322,235 330,240 338,250 345,235 352,245 360,270 368,285 376,280 384,295 392,300 400,310 406,320 412,330 418,315 426,305 434,300 442,290 450,280 460,270 470,265 478,250 486,240 494,235 502,240 510,245 518,230 526,225 534,222 542,220 550,215 556,205 564,190 572,195 580,185 588,170 596,155 604,150 612,140 620,150 628,148 636,155 644,150 650,130 656,175 664,180 672,178 680,182 688,170 696,160 704,155 712,150 720,148 728,158 736,165 744,160 752,140 760,145 766,170 772,155 778,130 784,110 790,115 796,125 802,110 808,108 814,135 820,140 828,175 836,190 844,195 852,185 860,198 868,195 876,188 884,178 892,190 900,195 908,190 916,195 924,200 932,210 940,215 950,225 960,235 970,230 980,240 990,235 1000,240 1010,228 1020,240 1030,238 1040,225 1050,215 1060,240 1070,238 1080,245 1090,240 1100,235 1110,245 1120,265 1130,255 1140,262 1150,260 1160,265 1170,275 1180,270 1190,282 1200,285 1210,275 1220,265 1230,250 1240,245 1250,240 1260,250 1270,255 1280,258 1290,265 1300,280 1310,278 1320,285 1330,283 1340,290 1350,300 1356,288 1362,295 1368,300 1374,285 1380,275 1386,280 1390,282"/>
</g>
<rect x="790" y="821" width="443" height="12.5" fill="#3a3c40"/>
<rect x="786.5" y="817" width="8.7" height="20" rx="2" fill="#45484d" stroke="#6d7075"/>
<path d="M789.7,822 V832 M792.1,822 V832" stroke="#7d8085" stroke-width="0.8"/>
<rect x="1228" y="817" width="9" height="20" rx="2" fill="#45484d" stroke="#6d7075"/>
<path d="M1231.3,822 V832 M1233.8,822 V832" stroke="#7d8085" stroke-width="0.8"/>
<path d="M1274.5,835 V840.5 H1269" fill="none" stroke="#a0a4aa" stroke-width="1.3"/>
</svg>
</body></html>
